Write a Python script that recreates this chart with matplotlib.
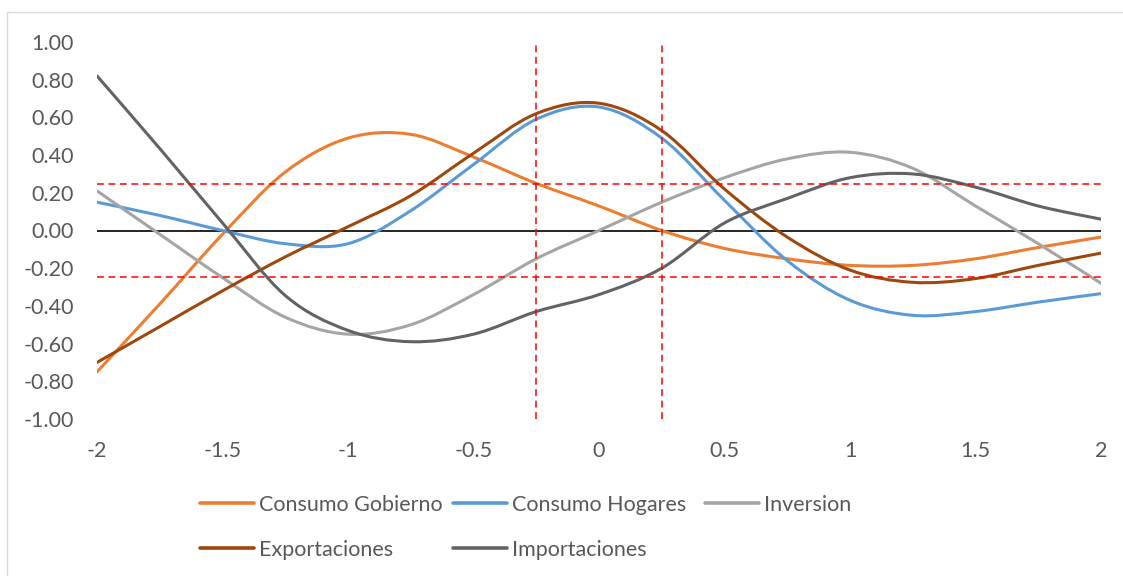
import matplotlib
matplotlib.use("Agg")
import matplotlib.pyplot as plt
from matplotlib.path import Path
from matplotlib.patches import PathPatch, Rectangle
from matplotlib.lines import Line2D

# Lags (x axis) and correlation values for each component
lags = [-2.0, -1.75, -1.5, -1.25, -1.0, -0.75, -0.5, -0.25, 0.0,
        0.25, 0.5, 0.75, 1.0, 1.25, 1.5, 1.75, 2.0]

consumo_gobierno = [-0.75, -0.39, -0.02, 0.31, 0.49, 0.51, 0.39, 0.25, 0.13,
                    0.0, -0.095, -0.15, -0.185, -0.185, -0.15, -0.09, -0.035]
consumo_hogares = [0.15, 0.08, 0.0, -0.07, -0.07, 0.105, 0.35, 0.59, 0.655,
                   0.49, 0.16, -0.16, -0.37, -0.45, -0.43, -0.38, -0.335]
inversion = [0.21, -0.02, -0.25, -0.46, -0.55, -0.50, -0.34, -0.15, 0.0,
             0.15, 0.28, 0.38, 0.415, 0.33, 0.13, -0.07, -0.28]
exportaciones = [-0.70, -0.51, -0.32, -0.14, 0.02, 0.185, 0.41, 0.62, 0.675,
                 0.53, 0.22, -0.035, -0.21, -0.275, -0.255, -0.185, -0.12]
importaciones = [0.82, 0.435, 0.04, -0.345, -0.53, -0.59, -0.55, -0.43, -0.34,
                 -0.20, 0.04, 0.17, 0.28, 0.30, 0.23, 0.13, 0.06]

series_names = ["Consumo Gobierno", "Consumo Hogares", "Inversion",
                "Exportaciones", "Importaciones"]
series_values = [consumo_gobierno, consumo_hogares, inversion,
                 exportaciones, importaciones]
series_colors = ["#ED7D31", "#5B9BD5", "#A5A5A5", "#9E480E", "#636363"]

# Confidence band and reference window
band = 0.246
window = [-0.25, 0.25]

y_ticks = [-1.0, -0.8, -0.6, -0.4, -0.2, 0.0, 0.2, 0.4, 0.6, 0.8, 1.0]
y_tick_labels = ["-1.00", "-0.80", "-0.60", "-0.40", "-0.20", "0.00",
                 "0.20", "0.40", "0.60", "0.80", "1.00"]
x_ticks = [-2, -1.5, -1, -0.5, 0, 0.5, 1, 1.5, 2]
x_tick_labels = ["-2", "-1.5", "-1", "-0.5", "0", "0.5", "1", "1.5", "2"]

plt.rcParams["font.family"] = ["Lato", "DejaVu Sans"]
text_color = "#595959"
font_size = 15.5

W, H = 1123, 576


def smooth_path(xs, ys):
    """Cubic Bezier path through the points (spreadsheet-style smoothing)."""
    n = len(xs)
    verts = [(xs[0], ys[0])]
    codes = [Path.MOVETO]
    for i in range(n - 1):
        x0, y0 = (xs[i - 1], ys[i - 1]) if i > 0 else (xs[i], ys[i])
        x1, y1 = xs[i], ys[i]
        x2, y2 = xs[i + 1], ys[i + 1]
        x3, y3 = (xs[i + 2], ys[i + 2]) if i + 2 < n else (x2, y2)
        c1 = (x1 + (x2 - x0) / 6.0, y1 + (y2 - y0) / 6.0)
        c2 = (x2 - (x3 - x1) / 6.0, y2 - (y3 - y1) / 6.0)
        verts += [c1, c2, (x2, y2)]
        codes += [Path.CURVE4] * 3
    return Path(verts, codes)


fig = plt.figure(figsize=(W / 100, H / 100), dpi=100)
fig.patches.append(Rectangle((7 / W, -0.1), 1.2, 1 - 12 / H + 0.1,
                             transform=fig.transFigure, fill=False,
                             edgecolor="#D9D9D9", linewidth=1.0))

ax = fig.add_axes([97 / W, 1 - 419 / H, (1101 - 97) / W, (419 - 42) / H])
ax.set_xlim(-2, 2)
ax.set_ylim(-1, 1)
for s in ax.spines.values():
    s.set_visible(False)

ax.set_yticks(y_ticks)
ax.set_yticklabels(y_tick_labels)
ax.set_xticks(x_ticks)
ax.set_xticklabels(x_tick_labels)
ax.tick_params(axis="y", length=0, pad=16.5, labelsize=font_size, labelcolor=text_color)
ax.tick_params(axis="x", length=0, pad=16, labelsize=font_size, labelcolor=text_color)

# Zero line
ax.plot([-2, 2], [0, 0], color="black", linewidth=1.2, zorder=2)

# Series curves
for vals, col in zip(series_values, series_colors):
    ax.add_patch(PathPatch(smooth_path(lags, vals), facecolor="none",
                           edgecolor=col, linewidth=2.2, capstyle="round",
                           zorder=3))

# Confidence band and window lines
dash = (0, (4.5, 3))
ax.plot([-2, 2], [band, band], color="red", linewidth=1.1, linestyle=dash, zorder=4)
ax.plot([-2, 2], [-band, -band], color="red", linewidth=1.1, linestyle=dash, zorder=4)
for w in window:
    ax.plot([w, w], [-1, 1], color="red", linewidth=1.1, linestyle=dash, zorder=4)

# Legend: two rows, entries placed in reading order
legend_slots = [(200, 503), (453, 503), (705, 503), (200, 548), (453, 548)]
handle_len = 54
for (px, py), name, col in zip(legend_slots, series_names, series_colors):
    yf = 1 - py / H
    fig.add_artist(Line2D([px / W, (px + handle_len) / W], [yf, yf],
                          transform=fig.transFigure, color=col,
                          linewidth=2.6, solid_capstyle="round"))
    fig.text((px + handle_len + 5) / W, yf, name, ha="left",
             va="center_baseline", fontsize=font_size, color=text_color)

fig.savefig("out.png", dpi=100)
